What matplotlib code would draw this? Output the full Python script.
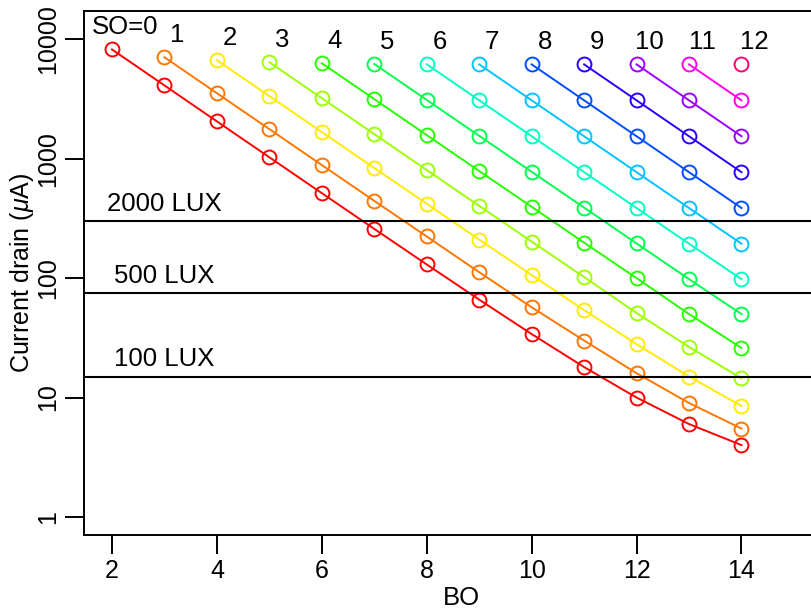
import colorsys
import matplotlib
matplotlib.use("Agg")
import matplotlib.pyplot as plt

# --- current drain vs beacon order, one line per superframe order ---
so_levels = list(range(13))
bo_max = 14

# drain in uA; list k starts at BO = SO + 2
drain_by_so = [
    [8200, 4100, 2050, 1026, 514, 258, 130, 66, 34, 18, 10, 6, 4],
    [7060, 3530, 1766, 884, 443, 223, 112, 57, 30, 16, 9, 5.5],
    [6670, 3336, 1669, 835, 419, 210, 106, 54, 28, 15, 8.5],
    [6410, 3206, 1604, 803, 402, 202, 102, 51, 26.5, 14.5],
    [6290, 3146, 1574, 788, 395, 198, 100, 50, 26],
    [6200, 3100, 1551, 776, 389, 195, 98, 50],
    [6160, 3080, 1541, 771, 386, 194, 98],
    [6150, 3076, 1539, 770, 386, 194],
    [6150, 3076, 1539, 770, 386],
    [6150, 3076, 1539, 770],
    [6150, 3076, 1539],
    [6150, 3076],
    [6150],
]

lux_levels = [300, 75, 15]
lux_labels = ["2000 LUX", "500 LUX", "100 LUX"]

x_ticks = [2, 4, 6, 8, 10, 12, 14]
y_ticks = [1, 10, 100, 1000, 10000]

plt.rcParams['font.family'] = ['Liberation Sans', 'DejaVu Sans']
plt.rcParams['mathtext.fontset'] = 'custom'
plt.rcParams['mathtext.rm'] = 'Liberation Sans'
plt.rcParams['mathtext.it'] = 'Liberation Sans:italic'

fig = plt.figure(figsize=(8.11, 6.12), dpi=100)
ax = fig.add_axes([84 / 811, 77 / 612, 754 / 811, 524.3 / 612])
ax.set_yscale('log')

for so in so_levels:
    vals = drain_by_so[so]
    bo = list(range(so + 2, bo_max + 1))
    col = colorsys.hsv_to_rgb(so / 13, 1, 1)
    ax.plot(bo, vals, '-o', color=col, lw=1.4, ms=10, mfc='none', mew=1.4)
    label = "SO=0" if so == 0 else str(so)
    ax.text(bo[0] + 0.25, vals[0] * 1.53, label, ha='center', va='center', fontsize=18.5)

for lv, lab in zip(lux_levels, lux_labels):
    ax.axhline(lv, color='black', lw=1.5)
    ax.text(3, lv * 1.4, lab, ha='center', va='center', fontsize=18.5)

ax.set_xlim(1.467, 15.84)
ax.set_ylim(0.707, 17300)
ax.set_xticks(x_ticks)
ax.set_xticklabels([str(t) for t in x_ticks])
ax.set_yticks(y_ticks)
ax.set_yticklabels([str(t) for t in y_ticks], rotation=90, va='center')
ax.minorticks_off()
ax.tick_params(length=14, width=1.4, labelsize=18, pad=3)
for s in ax.spines.values():
    s.set_linewidth(1.4)

ax.set_xlabel('BO', fontsize=18.5, va='center')
ax.set_ylabel(r'Current drain ($\mu$A)', fontsize=18, va='center')
ax.xaxis.set_label_coords(0.5, -0.12)
ax.yaxis.set_label_coords(-0.082, 0.5)

fig.savefig('out.png', dpi=100)
